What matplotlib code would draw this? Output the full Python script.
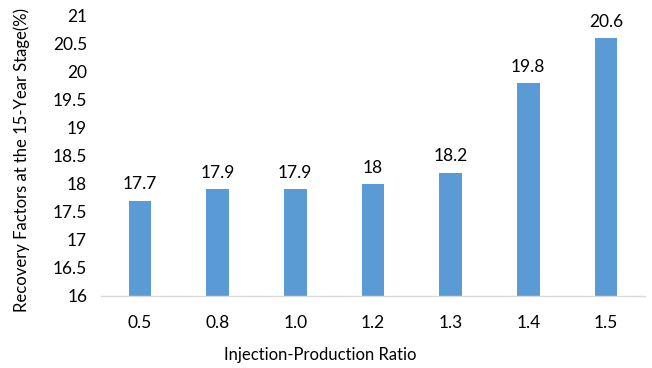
import matplotlib
matplotlib.use('Agg')
import matplotlib.pyplot as plt
import numpy as np

# injection-production ratio vs. 15-year recovery factor
ratios = ['0.5', '0.8', '1.0', '1.2', '1.3', '1.4', '1.5']
recovery = [17.7, 17.9, 17.9, 18.0, 18.2, 19.8, 20.6]
value_labels = ['17.7', '17.9', '17.9', '18', '18.2', '19.8', '20.6']

plt.rcParams['font.family'] = ['Lato', 'DejaVu Sans']

fig = plt.figure(figsize=(6.52, 3.68), dpi=100)
ax = fig.add_axes([0.155, 0.196, 0.834, 0.761])

x = np.arange(len(ratios))
bars = ax.bar(x, [v - 16 for v in recovery], bottom=16, width=0.29, color='#5B9BD5')

for xi, v, lab in zip(x, recovery, value_labels):
    ax.annotate(lab, (xi, v), xytext=(0, 6), textcoords='offset points',
                ha='center', va='bottom', fontsize=12.5, color='#000000')

ax.set_xlim(-0.5, len(ratios) - 0.5)
ax.set_ylim(16, 21)
ax.set_yticks(np.arange(16, 21.01, 0.5))
ax.set_yticklabels(['16', '16.5', '17', '17.5', '18', '18.5', '19', '19.5', '20', '20.5', '21'])
ax.set_xticks(x)
ax.set_xticklabels(ratios)
ax.tick_params(axis='both', length=0, labelsize=12.5, colors='#000000')
ax.tick_params(axis='x', pad=14)
ax.tick_params(axis='y', pad=10)

for side in ['top', 'right', 'left']:
    ax.spines[side].set_visible(False)
ax.spines['bottom'].set_color('#D9D9D9')
ax.spines['bottom'].set_linewidth(1)

# axis titles placed relative to the whole chart area
fig.text(0.491, 0.035, 'Injection-Production Ratio', fontsize=12,
         ha='center', va='center')
fig.text(0.034, 0.565, 'Recovery Factors at the 15-Year Stage(%)', fontsize=12,
         ha='center', va='center', rotation=90)

plt.savefig('out.png', dpi=100)
